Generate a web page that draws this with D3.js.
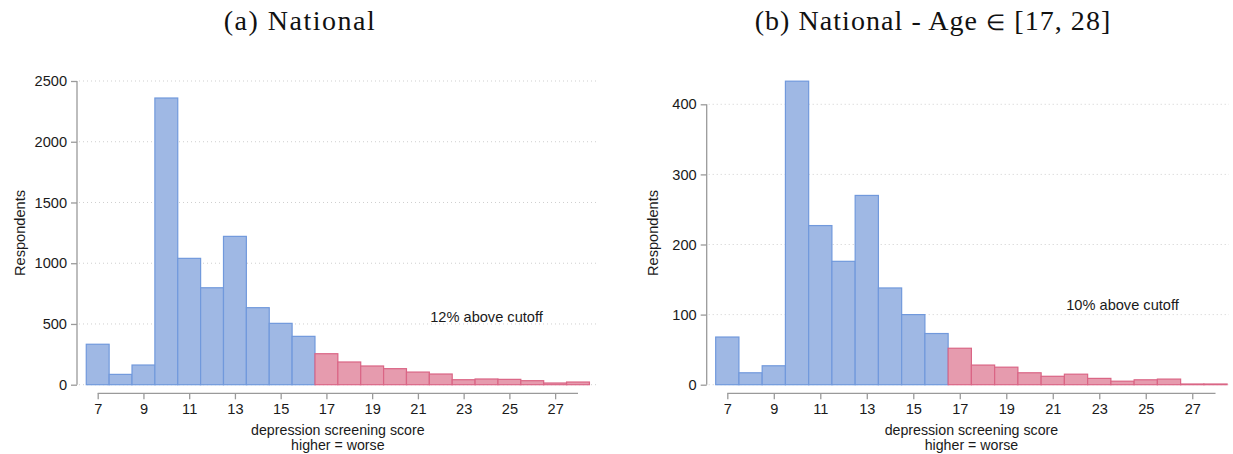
<!DOCTYPE html>
<html>
<head>
<meta charset="utf-8">
<script src="https://cdn.jsdelivr.net/npm/d3@7"></script>
<style>
  html, body { margin: 0; padding: 0; background: #ffffff; }
  svg { display: block; }
</style>
</head>
<body>
<svg id="chart" width="1233" height="454"></svg>
<script>
// Depression screening score (integer bins)
const scores = [7, 8, 9, 10, 11, 12, 13, 14, 15, 16, 17, 18, 19, 20, 21, 22, 23, 24, 25, 26, 27, 28];
// Respondents per score, full national sample
const nationalCounts = [333, 85, 162, 2360, 1040, 798, 1221, 634, 505, 398, 255, 187, 154, 132, 104, 88, 41, 47, 44, 33, 14, 22];
// Respondents per score, ages 17 to 28
const youthCounts = [68, 17, 27, 433, 227, 176, 270, 138, 100, 73, 52, 28, 25, 17, 12, 15, 9, 5, 7, 8, 1, 1];
const cutoff = 17;
const xTicks = [7, 9, 11, 13, 15, 17, 19, 21, 23, 25, 27];
const nationalYTicks = [0, 500, 1000, 1500, 2000, 2500];
const youthYTicks = [0, 100, 200, 300, 400];
// panel titles, split so the set-membership sign can use a lighter glyph
const titleParts = [["(a) National"], ["(b) National - Age ", "\u2208", " [17, 28]"]];
const shareAbove = ["12% above cutoff", "10% above cutoff"];

const svg = d3.select("#chart");
const sans = '"Liberation Sans", Arial, sans-serif';
const serif = '"Liberation Serif", "Times New Roman", serif';
const fs = 14.6;

const panels = [
  {
    counts: nationalCounts, yTicks: nationalYTicks, yMax: 2500,
    title: titleParts[0], note: shareAbove[0], noteAt: [24, 560],
    titleX: 300, titleSpacing: 1.5,
    yAxisX: 77, gridRight: 597, xRange: [97.7, 578], yRange: [384.7, 81],
    labelX: 20
  },
  {
    counts: youthCounts, yTicks: youthYTicks, yMax: 400,
    title: titleParts[1], note: shareAbove[1], noteAt: [24, 113],
    titleX: 933, titleSpacing: 1.05,
    yAxisX: 706.7, gridRight: 1229, xRange: [727.3, 1215.5], yRange: [384.7, 104.3],
    labelX: 653
  }
];

const xAxisY = 393.3;

panels.forEach(p => {
  const g = svg.append("g");
  const x = d3.scaleLinear().domain([7, 28]).range(p.xRange);
  const y = d3.scaleLinear().domain([0, p.yMax]).range(p.yRange);

  // panel title
  const t = g.append("text")
    .attr("x", p.titleX).attr("y", 30)
    .attr("text-anchor", "middle")
    .attr("font-family", serif)
    .attr("font-size", 28)
    .attr("letter-spacing", p.titleSpacing)
    .attr("fill", "#111");
  p.title.forEach(part => {
    const span = t.append("tspan").text(part);
    if (part === "\u2208") {
      span.attr("font-family", '"DejaVu Sans", sans-serif')
        .attr("font-weight", 200)
        .attr("font-size", 22);
    }
  });

  // dotted horizontal grid
  g.append("g").selectAll("line")
    .data(p.yTicks)
    .join("line")
    .attr("x1", p.yAxisX + 2).attr("x2", p.gridRight)
    .attr("y1", d => y(d)).attr("y2", d => y(d))
    .attr("stroke", "#cfcfcf")
    .attr("stroke-width", 1)
    .attr("stroke-dasharray", "1,3");

  // histogram bars
  const bins = scores.map((s, i) => ({ score: s, n: p.counts[i] }));
  g.append("g").selectAll("rect")
    .data(bins)
    .join("rect")
    .attr("x", d => x(d.score - 0.5))
    .attr("width", d => x(d.score + 0.5) - x(d.score - 0.5))
    .attr("y", d => y(d.n))
    .attr("height", d => y(0) - y(d.n))
    .attr("fill", d => d.score >= cutoff ? "#e69bae" : "#9fb8e4")
    .attr("stroke", d => d.score >= cutoff ? "#da6585" : "#7199dc")
    .attr("stroke-width", 1.2);

  // y axis
  const yAxis = d3.axisLeft(y).tickValues(p.yTicks).tickSize(6).tickPadding(4).tickFormat(d3.format("d"));
  const ya = g.append("g").attr("transform", `translate(${p.yAxisX},0)`).call(yAxis);
  ya.select(".domain").attr("stroke", "#9a9a9a").attr("stroke-width", 1.3).attr("d", `M0,${y(p.yMax)}V${y(0)}`);
  ya.selectAll(".tick line").attr("stroke", "#9a9a9a").attr("stroke-width", 1.3);
  ya.selectAll(".tick text").attr("font-size", fs).attr("fill", "#1a1a1a").attr("font-family", sans);

  // x axis
  const xAxis = d3.axisBottom(x).tickValues(xTicks).tickSize(6).tickPadding(4).tickFormat(d3.format("d"));
  const xa = g.append("g").attr("transform", `translate(0,${xAxisY})`).call(xAxis);
  xa.select(".domain").attr("stroke", "#9a9a9a").attr("stroke-width", 1.3).attr("d", `M${x(7)},0H${x(28)}`);
  xa.selectAll(".tick line").attr("stroke", "#9a9a9a").attr("stroke-width", 1.3);
  xa.selectAll(".tick text").attr("font-size", fs).attr("fill", "#1a1a1a").attr("font-family", sans);

  // x axis title (two lines)
  const xMid = (x(7) + x(28)) / 2;
  g.append("text")
    .attr("x", xMid).attr("y", 434.5)
    .attr("text-anchor", "middle")
    .attr("font-family", sans).attr("font-size", 14.2).attr("fill", "#1a1a1a")
    .text("depression screening score");
  g.append("text")
    .attr("x", xMid).attr("y", 450)
    .attr("text-anchor", "middle")
    .attr("font-family", sans).attr("font-size", 14.2).attr("fill", "#1a1a1a")
    .text("higher = worse");

  // y axis title
  g.append("text")
    .attr("transform", `translate(${p.labelX + 5},233) rotate(-90)`)
    .attr("text-anchor", "middle")
    .attr("font-family", sans).attr("font-size", fs).attr("fill", "#1a1a1a")
    .text("Respondents");

  // share above cutoff
  g.append("text")
    .attr("x", x(p.noteAt[0])).attr("y", y(p.noteAt[1]))
    .attr("text-anchor", "middle")
    .attr("dominant-baseline", "central")
    .attr("font-family", sans).attr("font-size", fs).attr("fill", "#1a1a1a")
    .text(p.note);
});
</script>
</body>
</html>
